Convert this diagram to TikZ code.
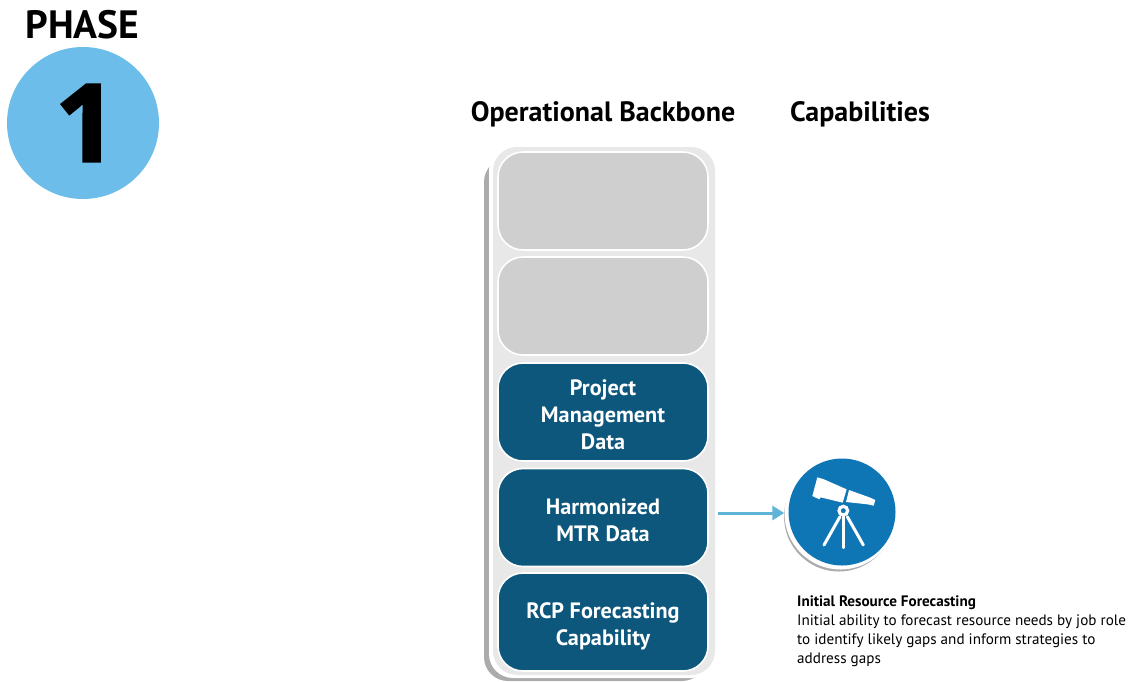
\documentclass[tikz,border=0pt]{standalone}
\usepackage{fontspec}
\setmainfont{PT Sans}
\newfontfamily\numfont[FakeBold=2]{Open Sans Bold}
\usetikzlibrary{arrows.meta}
\definecolor{boxblue}{HTML}{0D567C}
\definecolor{boxgrey}{HTML}{CFCFD0}
\definecolor{panelgrey}{HTML}{E8E8E8}
\definecolor{shadowgrey}{HTML}{ABABAB}
\definecolor{phaseblue}{HTML}{6CBDE9}
\definecolor{telblue}{HTML}{0F76B6}
\definecolor{arrowblue}{HTML}{5FB4D8}
\tikzset{
 stackbox/.style={draw=white,line width=1.6pt,rounded corners=25pt,minimum width=210pt,minimum height=98pt,inner sep=0pt,align=center,font=\fontsize{22.2}{27}\selectfont\bfseries,text=white},
 bluebox/.style={stackbox,fill=boxblue},
 greybox/.style={stackbox,fill=boxgrey},
 heading/.style={inner sep=0pt,font=\fontsize{28}{32}\selectfont\bfseries,text=black},
 telpart/.style={fill=white,draw=none},
 telleg/.style={draw=white,line width=3pt,line cap=round},
}
\begin{document}
\begin{tikzpicture}[x=1pt,y=-1pt]
\useasboundingbox (0,0) rectangle (1131,681);
% phase badge
\node[heading,font=\fontsize{39.5}{42}\selectfont\bfseries] (phase) at (82.5,24.5) {PHASE};
\node[circle,fill=phaseblue,minimum size=152pt,inner sep=0pt] (badge) at (83,123) {};
\node[inner sep=0pt,font=\fontsize{108}{108}\numfont,text=black] (num) at (86,123) {1};
% headings
\node[heading] (backbone) at (603,114.5) {Operational Backbone};
\node[heading] (caps) at (860,114.5) {Capabilities};
% panel
\fill[shadowgrey,rounded corners=24pt] (484,158) rectangle (706,681);
\fill[white,rounded corners=24pt] (489,147) rectangle (715,678);
\fill[panelgrey,rounded corners=24pt] (493,147) rectangle (715,675);
% boxes
\node[greybox] (g1) at (603,201) {};
\node[greybox] (g2) at (603,306) {};
\node[bluebox] (pm) at (603,412) {\rule{0pt}{22pt}Project\\Management\\Data};
\node[bluebox] (mtr) at (603,517.5) {\rule{0pt}{22pt}Harmonized\\MTR Data};
\node[bluebox] (rcp) at (603,622) {\rule{0pt}{24pt}RCP Forecasting\\Capability};
% icon
\fill[shadowgrey] (839,516.5) circle (55pt);
\node[circle,fill=white,minimum size=112pt,inner sep=0pt] (ring) at (840.5,513.5) {};
\node[circle,fill=telblue,minimum size=107pt,inner sep=0pt] (tel) at (842,512) {};
\coordinate (start) at (718,513);
\draw[arrowblue,line width=3pt,-{Triangle[length=12pt,width=14pt]}] (start) -- (ring.west |- start);
% telescope
\begin{scope}[shift={(700,440)},x=0.3333pt,y=-0.3333pt]
\fill[telpart] (352,112) -- (372,118) -- (440,148) -- (428,188) -- (362,172) -- (358,178) -- (337,168) -- cycle;
\fill[telpart] (447,150) -- (508,172) -- (526,180) -- (521,197) -- (503,193) -- (438,186) -- cycle;
\draw[telleg] (420,230) -- (372,315);
\draw[telleg] (430,230) -- (430,323);
\draw[telleg] (442,230) -- (490,315);
\draw[white,line width=3.2pt,fill=telblue] (430,212) circle (13);
\end{scope}
% caption
\node[anchor=north west,inner sep=0pt,align=left,font=\fontsize{15.15}{19}\selectfont,text=black] (cap) at (797,595.5)
 {\textbf{Initial Resource Forecasting}\\Initial ability to forecast resource needs by job role\\to identify likely gaps and inform strategies to\\address gaps};
\end{tikzpicture}
\end{document}
